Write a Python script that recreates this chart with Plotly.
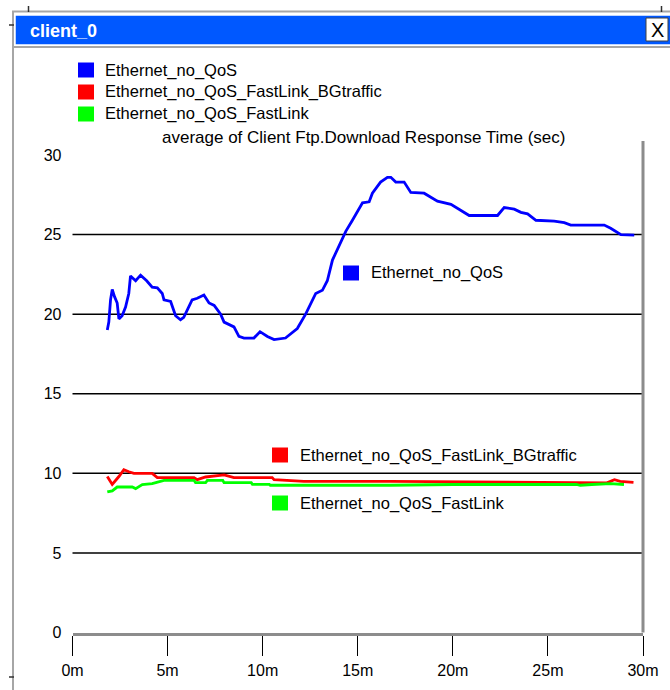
import plotly.graph_objects as go

# ---------------- data ----------------
SERIES_NAMES = ["Ethernet_no_QoS", "Ethernet_no_QoS_FastLink_BGtraffic", "Ethernet_no_QoS_FastLink"]
SERIES_COLORS = ["#0000ff", "#ff0000", "#00ff00"]
WINDOW_TITLE = "client_0"
STAT_TITLE = "average of Client Ftp.Download Response Time (sec)"

blue_t = [1.83, 1.91, 2.0, 2.09, 2.21, 2.35, 2.44, 2.61, 2.79, 2.96, 3.05, 3.32, 3.58,
          3.9, 4.19, 4.46, 4.72, 4.81, 5.16, 5.42, 5.68, 5.85, 6.29, 6.56, 6.91, 7.18,
          7.45, 7.79, 7.97, 8.3, 8.49, 8.75, 9.02, 9.54, 9.86, 10.25, 10.6, 11.2, 11.82,
          12.26, 12.79, 13.14, 13.4, 13.67, 14.0, 14.37, 14.72, 14.98, 15.25, 15.6, 15.77,
          16.2, 16.56, 16.74, 17.0, 17.44, 17.79, 18.49, 19.19, 19.9, 20.42, 20.86, 22.35,
          22.7, 23.23, 23.58, 23.93, 24.37, 25.33, 25.86, 26.2, 27.96, 28.3, 28.84, 29.54]
blue_v = [19.0, 19.5, 20.9, 21.55, 21.1, 20.7, 19.7, 19.9, 20.45, 21.3, 22.4, 22.1, 22.45,
          22.1, 21.7, 21.65, 21.3, 20.9, 20.8, 19.9, 19.65, 19.8, 20.9, 21.0, 21.2, 20.7,
          20.55, 20.0, 19.5, 19.3, 19.2, 18.6, 18.5, 18.5, 18.9, 18.6, 18.4, 18.5, 19.1,
          20.0, 21.3, 21.5, 22.1, 23.4, 24.2, 25.2, 25.9, 26.4, 27.0, 27.06, 27.6,
          28.3, 28.6, 28.6, 28.3, 28.3, 27.65, 27.6, 27.1, 26.9, 26.5, 26.2, 26.2,
          26.7, 26.6, 26.4, 26.3, 25.9, 25.85, 25.75, 25.6, 25.6, 25.4, 25.0, 24.97]

red_t = [1.83, 2.09, 2.44, 2.7, 2.96, 3.23, 4.19, 4.46, 6.39, 6.56, 7.0, 7.97, 8.49,
         10.5, 10.6, 12.17, 16.7, 20.0, 24.0, 27.0, 28.1, 28.5, 28.8, 29.5]
red_v = [9.8, 9.3, 9.8, 10.23, 10.1, 10.0, 10.0, 9.73, 9.73, 9.6, 9.77, 9.9, 9.73,
         9.73, 9.6, 9.5, 9.5, 9.47, 9.45, 9.45, 9.4, 9.6, 9.5, 9.43]

green_t = [1.83, 2.09, 2.35, 3.14, 3.32, 3.67, 4.19, 4.81, 6.39, 6.47, 7.0, 7.09, 7.9,
           7.97, 9.4, 9.46, 10.35, 10.4, 16.7, 19.0, 20.0, 26.5, 26.7, 27.3, 28.3, 29.0]
green_v = [8.83, 8.9, 9.14, 9.14, 9.04, 9.29, 9.35, 9.56, 9.56, 9.41, 9.41, 9.56, 9.56,
           9.41, 9.41, 9.31, 9.31, 9.25, 9.25, 9.28, 9.3, 9.3, 9.25, 9.3, 9.35, 9.3]

X_TICKS = [0, 5, 10, 15, 20, 25, 30]
X_TICK_TEXT = ["0m", "5m", "10m", "15m", "20m", "25m", "30m"]
Y_TICKS = [0, 5, 10, 15, 20, 25, 30]
GRID_LINES = [5, 10, 15, 20, 25]

# ---------------- layout helpers ----------------
W, H = 670, 690
FONT = "Liberation Sans, Arial, sans-serif"


def px(x):
    return x / W


def py(y):
    return 1 - y / H


fig = go.Figure()
for t, v, name, col in zip([blue_t, red_t, green_t], [blue_v, red_v, green_v],
                           SERIES_NAMES, SERIES_COLORS):
    fig.add_trace(go.Scatter(x=t, y=v, mode="lines", name=name,
                             line=dict(color=col, width=2.8), hoverinfo="skip"))

shapes = []
annotations = []

# grid lines
for g in GRID_LINES:
    shapes.append(dict(type="line", xref="x domain", yref="y", x0=0, x1=1, y0=g, y1=g,
                       line=dict(color="black", width=1.5), layer="below"))
# right border of plot
shapes.append(dict(type="line", xref="x domain", yref="y domain", x0=1, x1=1, y0=0, y1=1,
                   line=dict(color="#8c8c8c", width=3)))

# window frame
gray = "#a6a6a6"
shapes += [
    dict(type="line", xref="paper", yref="paper", x0=px(13), x1=px(13), y0=py(11), y1=py(690),
         line=dict(color=gray, width=2)),
    dict(type="line", xref="paper", yref="paper", x0=px(12), x1=px(670), y0=py(11.5), y1=py(11.5),
         line=dict(color=gray, width=2)),
    dict(type="rect", xref="paper", yref="paper", x0=px(15), x1=px(672), y0=py(15), y1=py(45),
         fillcolor="#0058ff", line=dict(color="white", width=1.5)),
    dict(type="line", xref="paper", yref="paper", x0=px(13), x1=px(670), y0=py(47), y1=py(47),
         line=dict(color=gray, width=2)),
    # close button
    dict(type="rect", xref="paper", yref="paper", x0=px(646), x1=px(668), y0=py(18), y1=py(41),
         fillcolor="white", line=dict(color="#404040", width=1)),
    # resize handles
    dict(type="line", xref="paper", yref="paper", x0=px(28.5), x1=px(28.5), y0=py(6), y1=py(12),
         line=dict(color="#303030", width=1.5)),
    dict(type="line", xref="paper", yref="paper", x0=px(661.5), x1=px(661.5), y0=py(6), y1=py(12),
         line=dict(color="#303030", width=1.5)),
    dict(type="line", xref="paper", yref="paper", x0=px(9), x1=px(14), y0=py(25), y1=py(25),
         line=dict(color="#303030", width=1.5)),
    dict(type="line", xref="paper", yref="paper", x0=px(9), x1=px(14), y0=py(677), y1=py(677),
         line=dict(color="#303030", width=1.5)),
]
annotations.append(dict(xref="paper", yref="paper", x=px(28), y=py(31), xanchor="left",
                        yanchor="middle", text="<b>" + WINDOW_TITLE + "</b>", showarrow=False,
                        font=dict(family=FONT, size=18, color="white")))
annotations.append(dict(xref="paper", yref="paper", x=px(657), y=py(30), xanchor="center",
                        yanchor="middle", text="X", showarrow=False,
                        font=dict(family=FONT, size=20, color="black")))

# top legend
legend_rows = [70, 92, 114]
for name, col, yc in zip(SERIES_NAMES, SERIES_COLORS, legend_rows):
    shapes.append(dict(type="rect", xref="paper", yref="paper", x0=px(78), x1=px(94),
                       y0=py(yc - 7.5), y1=py(yc + 7.5), fillcolor=col, line=dict(width=0)))
    annotations.append(dict(xref="paper", yref="paper", x=px(103), y=py(yc), xanchor="left",
                            yanchor="middle", text=name, showarrow=False,
                            font=dict(family=FONT, size=16.5, color="black")))
annotations.append(dict(xref="paper", yref="paper", x=px(364), y=py(137), xanchor="center",
                        yanchor="middle", text=STAT_TITLE, showarrow=False,
                        font=dict(family=FONT, size=17, color="black")))

# in-plot labels
inplot = [(343, 273), (272, 455), (272, 503)]
for name, col, (x0, yc) in zip(SERIES_NAMES, SERIES_COLORS, inplot):
    shapes.append(dict(type="rect", xref="paper", yref="paper", x0=px(x0), x1=px(x0 + 16),
                       y0=py(yc - 7.5), y1=py(yc + 7.5), fillcolor=col, line=dict(width=0)))
    annotations.append(dict(xref="paper", yref="paper", x=px(x0 + 26), y=py(yc), xanchor="left",
                            yanchor="middle", text=name, showarrow=False,
                            font=dict(family=FONT, size=16.5, color="black")))

top_px, bot_px = 141, 632.5
unit = (632.5 - 155) / 30.0
fig.update_layout(
    width=W, height=H, autosize=False,
    margin=dict(l=0, r=0, t=0, b=0, pad=0, autoexpand=False),
    paper_bgcolor="white", plot_bgcolor="white",
    showlegend=False,
    font=dict(family=FONT, size=16, color="black"),
    xaxis=dict(domain=[px(72.5), px(643)], range=[0, 30], tickvals=X_TICKS,
               ticktext=X_TICK_TEXT, showgrid=False, zeroline=False, showline=True,
               linecolor="#8c8c8c", linewidth=3, ticks="outside", ticklen=20,
               tickwidth=1, tickcolor="black", ticklabelstandoff=1, automargin=False,
               tickfont=dict(family=FONT, size=16, color="black")),
    yaxis=dict(domain=[py(bot_px), py(top_px)], range=[0, (bot_px - top_px) / unit],
               tickvals=Y_TICKS, showgrid=False, zeroline=False, showline=False,
               ticks="", ticklabelstandoff=10, automargin=False,
               tickfont=dict(family=FONT, size=16, color="black")),
    shapes=shapes,
    annotations=annotations,
)

fig.write_html("out.html", config={"displayModeBar": False},
               post_script="document.body.style.margin='0';")
